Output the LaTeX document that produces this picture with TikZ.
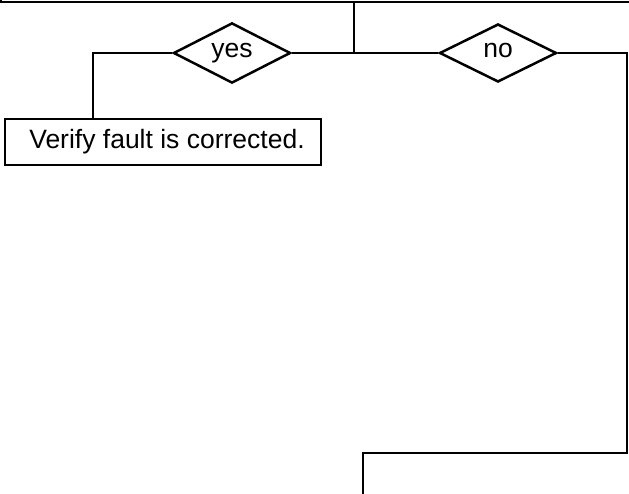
\documentclass[tikz,border=0pt]{standalone}
\usepackage{fontspec}
\setmainfont{Liberation Sans}
\usetikzlibrary{shapes.geometric}
\begin{document}
\begin{tikzpicture}[x=1pt,y=-1pt,
  line width=2.5pt,
  every node/.style={font=\fontsize{26.5}{32}\selectfont},
  choice/.style={diamond,draw,minimum width=117pt,minimum height=58pt,inner sep=0pt,text height=14pt,text depth=5pt},
  stepbox/.style={rectangle,draw,minimum width=316pt,minimum height=46pt,inner sep=0pt}]
\useasboundingbox (0,0) rectangle (629,494);
\clip (0,0) rectangle (629,494);
% partially visible box above
\draw (1,-60) rectangle (660,2);
\coordinate (top) at (354,2);
\coordinate (J) at (354,53);
\node[choice] (yes) at (232,53) {yes};
\node[choice] (no) at (498,53) {no};
\node[stepbox] (verify) at (163,142) {\hspace*{8pt}Verify fault is corrected.};
\coordinate (bl) at (93,53);
\coordinate (nr) at (627,53);
\coordinate (nb) at (627,453);
\coordinate (nl) at (363,453);
\coordinate (nend) at (363,510);
\draw (top) -- (J);
\draw (yes.east) -- (no.west);
\draw (yes.west) -- (bl) -- (bl |- verify.north);
\draw (no.east) -- (nr) -- (nb) -- (nl) -- (nend);
\end{tikzpicture}
\end{document}
